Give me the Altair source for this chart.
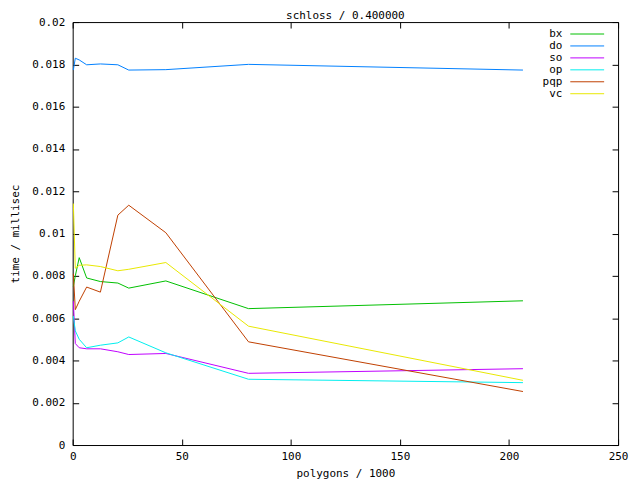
import altair as alt
import pandas as pd

FONT = "DejaVu Sans Mono"
FS = 11

names = ["bx", "do", "so", "op", "pqp", "vc"]
colors = ["#00c000", "#0080ff", "#c000ff", "#00eeee", "#c04000", "#e8e800"]

polygons = [0.3, 1.2, 3.0, 6.4, 12.7, 20.7, 25.7, 42.7, 80.6, 206.4]
bx  = [0.0075, 0.0080, 0.00886, 0.0079, 0.00773, 0.00766, 0.00742, 0.00776, 0.00645, 0.00682]
do  = [0.01773, 0.01829, 0.01821, 0.01798, 0.01802, 0.01798, 0.01773, 0.01775, 0.01800, 0.01773]
so  = [0.0068, 0.0048, 0.0046, 0.00455, 0.00455, 0.00441, 0.00428, 0.00433, 0.00339, 0.00361]
op  = [0.0061, 0.0054, 0.0050, 0.0046, 0.00472, 0.00483, 0.00511, 0.00436, 0.00311, 0.00295]
pqp = [0.0081, 0.0064, 0.0068, 0.00747, 0.00723, 0.01087, 0.01134, 0.01004, 0.00488, 0.00253]
vc  = [0.01142, 0.00836, 0.0085, 0.00852, 0.00844, 0.00824, 0.00831, 0.00863, 0.00562, 0.00306]

x_ticks = [0, 50, 100, 150, 200, 250]
y_ticks = [0, 0.002, 0.004, 0.006, 0.008, 0.01, 0.012, 0.014, 0.016, 0.018, 0.02]

series = {"bx": bx, "do": do, "so": so, "op": op, "pqp": pqp, "vc": vc}
rows = []
for n in names:
    for i, (xv, yv) in enumerate(zip(polygons, series[n])):
        rows.append({"series": n, "x": xv, "t": yv, "i": i})
df = pd.DataFrame(rows)
legend_df = pd.DataFrame({"series": names})

xscale = alt.Scale(domain=[0, 250], nice=False, zero=False)
yscale = alt.Scale(domain=[0, 0.02], nice=False, zero=False)
cscale = alt.Scale(domain=names, range=colors)

lines = alt.Chart(df).mark_line(strokeWidth=1).encode(
    x=alt.X("x:Q", scale=xscale,
            axis=alt.Axis(orient="bottom", values=x_ticks, title="polygons / 1000",
                          offset=-6, tickSize=6, domain=False, grid=False,
                          labelPadding=6, titlePadding=6, labelFlush=False)),
    y=alt.Y("t:Q", scale=yscale,
            axis=alt.Axis(orient="left", values=y_ticks, title="time / millisec",
                          format="~g", offset=-6, tickSize=6, domain=False, grid=False,
                          labelPadding=8, titlePadding=11, labelFlush=False)),
    color=alt.Color("series:N", sort=names, scale=cscale, legend=None),
    order="i:Q",
)

mirror = alt.Chart(df).mark_point(opacity=0).encode(
    x=alt.X("x:Q", scale=xscale,
            axis=alt.Axis(orient="top", values=x_ticks, labels=False, title=None,
                          offset=-6, tickSize=6, domain=False, grid=False)),
    y=alt.Y("t:Q", scale=yscale,
            axis=alt.Axis(orient="right", values=y_ticks, labels=False, title=None,
                          offset=-6, tickSize=6, domain=False, grid=False)),
)

leg_y = alt.Y("series:N", sort=names,
              scale=alt.Scale(type="point", range=[12, 72], padding=0), axis=None)

leg_text = alt.Chart(legend_df).mark_text(align="right", baseline="middle", font=FONT,
                                          fontSize=FS, color="black").encode(
    x=alt.value(492), y=leg_y, text="series:N")

leg_rule = alt.Chart(legend_df).mark_rule(strokeWidth=1).encode(
    x=alt.value(500), x2=alt.value(534), y=leg_y,
    color=alt.Color("series:N", sort=names, scale=cscale, legend=None))

chart = alt.layer(lines, mirror, leg_text, leg_rule).resolve_axis(
    x="independent", y="independent").resolve_scale(y="independent").properties(
    width=548, height=425,
    autosize="none",
    padding={"left": 65, "top": 13, "right": 14, "bottom": 34},
    title=alt.Title("schloss / 0.400000", font=FONT, fontSize=FS, fontWeight="normal",
                    anchor="middle", offset=-5, color="black"),
).configure_view(stroke="black", strokeWidth=1).configure_axis(
    labelFont=FONT, labelFontSize=FS, titleFont=FONT, titleFontSize=FS,
    titleFontWeight="normal", labelColor="black", titleColor="black",
    tickColor="black", tickWidth=1,
)

chart.save("out.html", embed_options={"renderer": "svg", "actions": False})
